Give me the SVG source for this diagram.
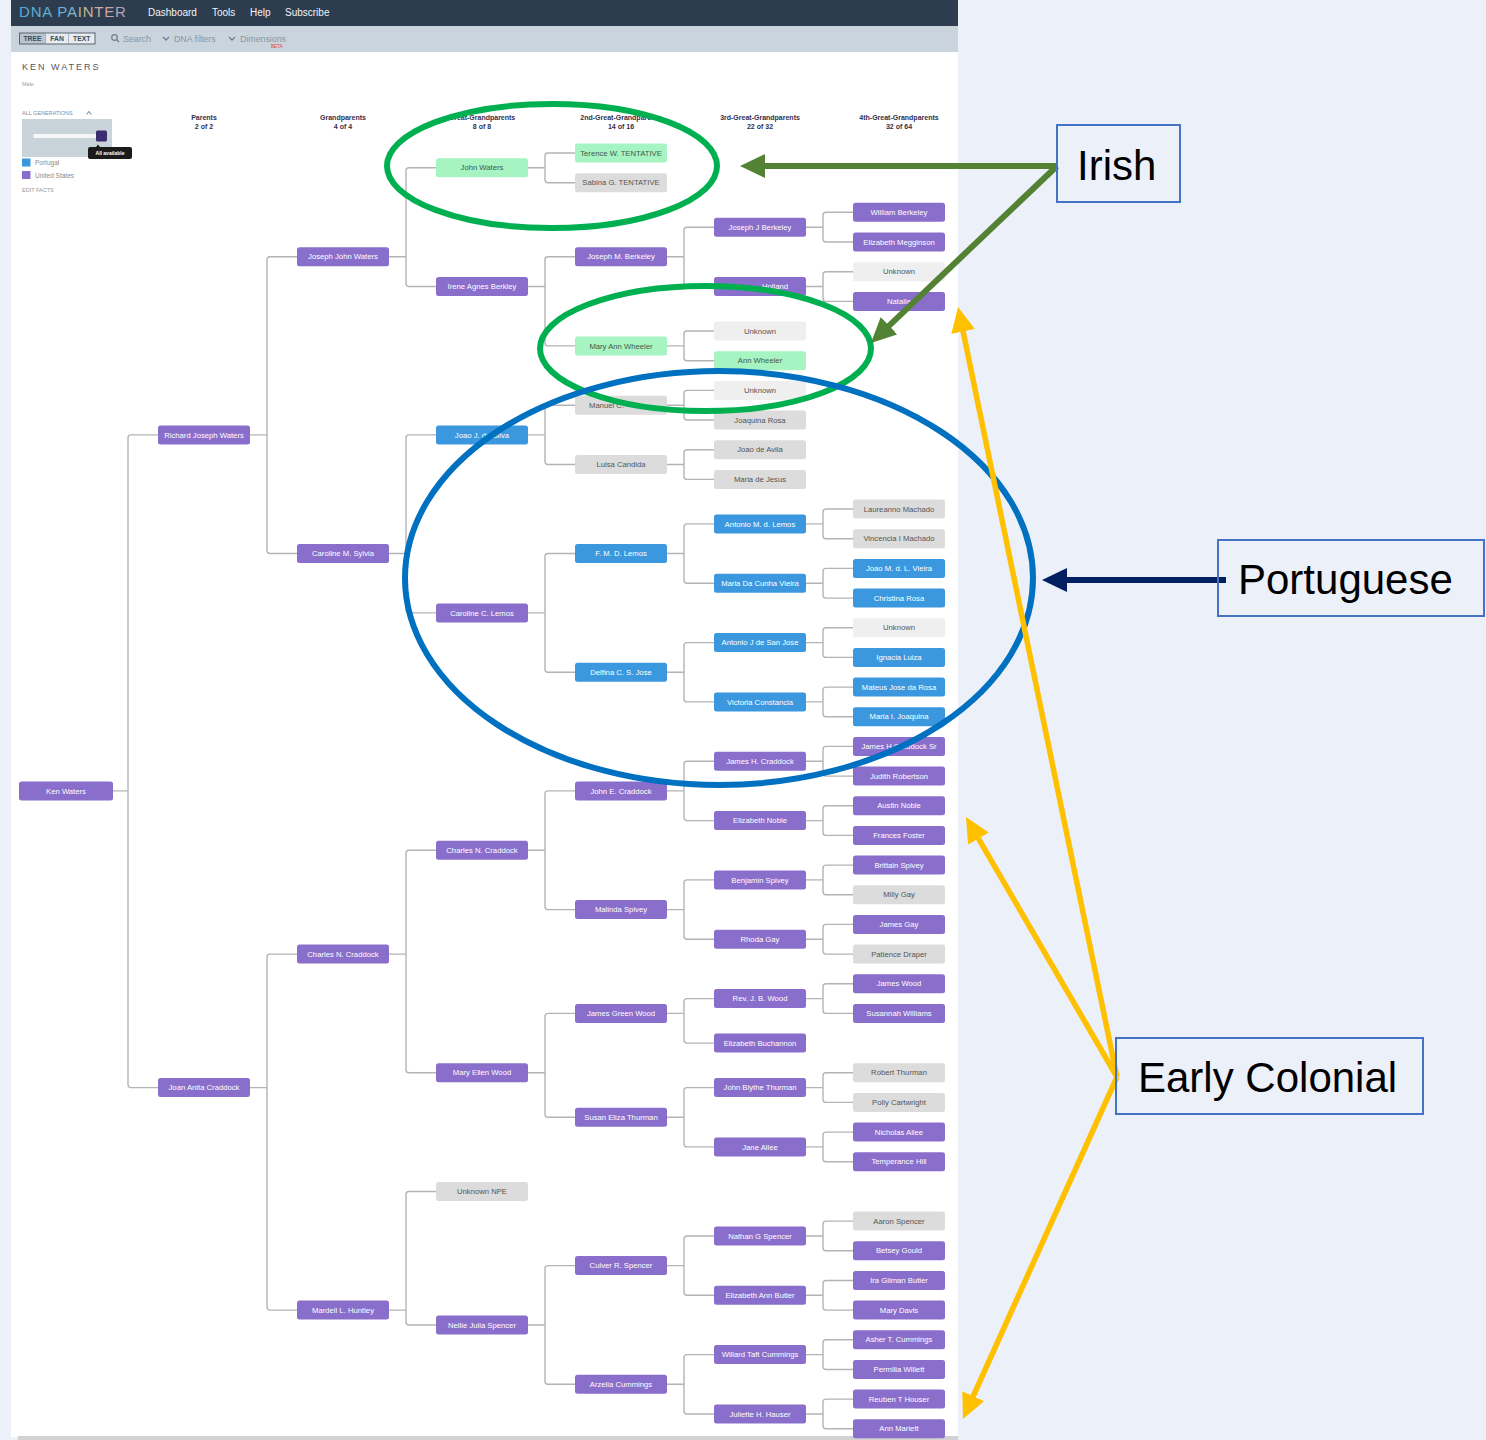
<svg xmlns="http://www.w3.org/2000/svg" width="1486" height="1440" viewBox="0 0 1486 1440">
<defs>
  <style>
    .ui{font-family:"Liberation Sans",Arial,sans-serif}
    .node rect{stroke:none}
    .node text{font-family:"Liberation Sans",Arial,sans-serif;font-size:7.7px;text-anchor:middle}
    .p rect{fill:#8a6ecb}
    .b rect{fill:#3b98de}
    .g rect{fill:#a6f4c2}
    .x rect{fill:#dcdcdc}
    .u rect{fill:#efefef}
    .p text,.b text{fill:#ffffff}
    .g text{fill:#3f5a4a}
    .x text,.u text{fill:#555555}
    .links path{fill:none;stroke:#b4b4b4;stroke-width:1.4}
    .hdr{font-family:"Liberation Sans",Arial,sans-serif;font-size:7px;font-weight:bold;fill:#34304c;text-anchor:middle}
    .call rect{fill:none;stroke:#4472c4;stroke-width:2}
    .call text{font-family:"Liberation Sans",Arial,sans-serif;font-size:42px;fill:#000000}
  </style>
  <linearGradient id="logo" gradientUnits="userSpaceOnUse" x1="19" y1="0" x2="127" y2="0">
    <stop offset="0" stop-color="#56a9dc"/>
    <stop offset="0.45" stop-color="#6cb2d8"/>
    <stop offset="0.6" stop-color="#bdb894"/>
    <stop offset="0.78" stop-color="#d3a6a2"/>
    <stop offset="1" stop-color="#a9a2bb"/>
  </linearGradient>
  <marker id="ahGreen" markerUnits="userSpaceOnUse" markerWidth="26" markerHeight="24" refX="2" refY="12" orient="auto">
    <path d="M0,0 L25,12 L0,24 Z" fill="#548235"/>
  </marker>
  <marker id="ahNavy" markerUnits="userSpaceOnUse" markerWidth="26" markerHeight="24" refX="2" refY="12" orient="auto">
    <path d="M0,0 L25,12 L0,24 Z" fill="#002060"/>
  </marker>
  <marker id="ahGold" markerUnits="userSpaceOnUse" markerWidth="26" markerHeight="24" refX="2" refY="12" orient="auto">
    <path d="M0,0 L25,12 L0,24 Z" fill="#ffc000"/>
  </marker>
</defs>

<!-- slide background -->
<rect x="0" y="0" width="1486" height="1440" fill="#ebf0f9"/>

<!-- app screenshot frame -->
<rect x="11" y="0" width="947" height="1437" fill="#ffffff"/>
<rect x="11" y="0" width="947" height="26" fill="#2d3d4f"/>
<rect x="11" y="26" width="947" height="26" fill="#c9d4dc"/>
<rect x="18" y="1436" width="940" height="4" fill="#d2d2d2"/>

<!-- top bar -->
<text class="ui" x="19" y="17" font-size="15" letter-spacing="0.8" fill="url(#logo)">DNA PAINTER</text>
<g class="ui" font-size="10" fill="#f2f4f7">
  <text x="148" y="16">Dashboard</text>
  <text x="212" y="16">Tools</text>
  <text x="250" y="16">Help</text>
  <text x="285" y="16">Subscribe</text>
</g>

<!-- toolbar -->
<rect x="19.5" y="33" width="26" height="11" fill="#b9c4cc"/>
<rect x="45.5" y="33" width="23" height="11" fill="#e6ecf0"/>
<rect x="68.5" y="33" width="26.5" height="11" fill="#e6ecf0"/>
<rect x="19.5" y="33" width="75.5" height="11" fill="none" stroke="#5a6470" stroke-width="1"/>
<line x1="45.5" y1="33" x2="45.5" y2="44" stroke="#8a96a0" stroke-width="0.6"/>
<line x1="68.5" y1="33" x2="68.5" y2="44" stroke="#8a96a0" stroke-width="0.6"/>
<g class="ui" font-size="6.8" font-weight="bold" fill="#3c4a58" text-anchor="middle">
  <text x="32.5" y="41">TREE</text>
  <text x="57" y="41">FAN</text>
  <text x="81.8" y="41">TEXT</text>
</g>
<circle cx="114.5" cy="37.5" r="2.8" fill="none" stroke="#6f8090" stroke-width="1.2"/>
<line x1="116.5" y1="39.5" x2="119" y2="42" stroke="#6f8090" stroke-width="1.4"/>
<path d="M163,37 L166,40 L169,37" fill="none" stroke="#6f8090" stroke-width="1.3"/>
<path d="M229,37 L232,40 L235,37" fill="none" stroke="#6f8090" stroke-width="1.3"/>
<g class="ui" font-size="8.8" fill="#8797a6">
  <text x="123" y="41.5">Search</text>
  <text x="174" y="41.5">DNA filters</text>
  <text x="240" y="41.5">Dimensions</text>
</g>
<text class="ui" x="271" y="47.5" font-size="4.5" fill="#e0403a">BETA</text>

<!-- profile panel -->
<text class="ui" x="22" y="70" font-size="9" letter-spacing="2" fill="#55555f">KEN WATERS</text>
<text class="ui" x="22" y="86" font-size="5.5" fill="#a0a0a0">Male</text>
<text class="ui" x="22" y="114.5" font-size="5.5" fill="#7f8fa0">ALL GENERATIONS</text>
<path d="M86.5,114.5 L89,111.5 L91.5,114.5" fill="none" stroke="#7f8fa0" stroke-width="1.1"/>
<rect x="22" y="119" width="90" height="38" fill="#c9d3da"/>
<rect x="33" y="134" width="64" height="4" rx="2" fill="#f4f6f8"/>
<rect x="96" y="130.5" width="11" height="11" rx="1.5" fill="#3b2d6e"/>
<path d="M96,147 L98,144.5 L100,147 Z" fill="#1b1b1b"/>
<rect x="88" y="147" width="44" height="12" rx="2" fill="#1b1b1b"/>
<text class="ui" x="110" y="155" font-size="5" font-weight="bold" fill="#ffffff" text-anchor="middle">All available</text>
<rect x="22" y="158.5" width="8.5" height="8" fill="#3b98de"/>
<rect x="22" y="171" width="8.5" height="8" fill="#8a6ecb"/>
<text class="ui" x="35" y="165" font-size="6.5" fill="#8a8a8a">Portugal</text>
<text class="ui" x="35" y="178" font-size="6.5" fill="#8a8a8a">United States</text>
<text class="ui" x="22" y="192" font-size="5.5" fill="#8c9caa">EDIT   FACTS</text>

<!-- generation headers -->
<g class="hdr">
  <text x="204" y="120">Parents</text><text x="204" y="129">2 of 2</text>
  <text x="343" y="120">Grandparents</text><text x="343" y="129">4 of 4</text>
  <text x="482" y="120">Great-Grandparents</text><text x="482" y="129">8 of 8</text>
  <text x="621" y="120">2nd-Great-Grandparents</text><text x="621" y="129">14 of 16</text>
  <text x="760" y="120">3rd-Great-Grandparents</text><text x="760" y="129">22 of 32</text>
  <text x="899" y="120">4th-Great-Grandparents</text><text x="899" y="129">32 of 64</text>
</g>

<!-- tree connectors: parent right edge -> elbow -> child left edge -->
<g class="links" id="connectors">
  <path d="M158,434.9 H131 Q128,434.9 128,437.9 V1084.6 Q128,1087.6 131,1087.6 H158 M111,790.9 H128"/>

  <path d="M297,256.8 H270 Q267,256.8 267,259.8 V550.5 Q267,553.5 270,553.5 H297 M250,434.9 H267"/>
  <path d="M297,954.1 H270 Q267,954.1 267,957.1 V1307.1 Q267,1310.1 270,1310.1 H297 M250,1087.6 H267"/>

  <path d="M436,167.8 H409 Q406,167.8 406,170.8 V283.5 Q406,286.5 409,286.5 H436 M389,256.8 H406"/>
  <path d="M436,434.9 H409 Q406,434.9 406,437.9 V609.9 Q406,612.9 409,612.9 H436 M389,553.5 H406"/>
  <path d="M436,850.2 H409 Q406,850.2 406,853.2 V1069.8 Q406,1072.8 409,1072.8 H436 M389,954.1 H406"/>
  <path d="M436,1191.5 H409 Q406,1191.5 406,1194.5 V1322 Q406,1325 409,1325 H436 M389,1310.1 H406"/>

  <path d="M575,153 H548 Q545,153 545,156 V179.7 Q545,182.7 548,182.7 H575 M528,167.8 H545"/>
  <path d="M575,256.8 H548 Q545,256.8 545,259.8 V342.9 Q545,345.9 548,345.9 H575 M528,286.5 H545"/>
  <path d="M575,405.2 H548 Q545,405.2 545,408.2 V461.5 Q545,464.5 548,464.5 H575 M528,434.9 H545"/>
  <path d="M575,553.5 H548 Q545,553.5 545,556.5 V669.2 Q545,672.2 548,672.2 H575 M528,612.9 H545"/>
  <path d="M575,790.9 H548 Q545,790.9 545,793.9 V906.6 Q545,909.6 548,909.6 H575 M528,850.2 H545"/>
  <path d="M575,1013.4 H548 Q545,1013.4 545,1016.4 V1114.3 Q545,1117.3 548,1117.3 H575 M528,1072.8 H545"/>
  <path d="M575,1265.6 H548 Q545,1265.6 545,1268.6 V1381.3 Q545,1384.3 548,1384.3 H575 M528,1325 H545"/>

  <path d="M714,227.2 H687 Q684,227.2 684,230.2 V283.5 Q684,286.5 687,286.5 H714 M667,256.8 H684"/>
  <path d="M714,331 H687 Q684,331 684,334 V357.7 Q684,360.7 687,360.7 H714 M667,345.9 H684"/>
  <path d="M714,390.4 H687 Q684,390.4 684,393.4 V417 Q684,420 687,420 H714 M667,405.2 H684"/>
  <path d="M714,449.7 H687 Q684,449.7 684,452.7 V476.4 Q684,479.4 687,479.4 H714 M667,464.5 H684"/>
  <path d="M714,523.9 H687 Q684,523.9 684,526.9 V580.2 Q684,583.2 687,583.2 H714 M667,553.5 H684"/>
  <path d="M714,642.6 H687 Q684,642.6 684,645.6 V698.9 Q684,701.9 687,701.9 H714 M667,672.2 H684"/>
  <path d="M714,761.2 H687 Q684,761.2 684,764.2 V817.6 Q684,820.6 687,820.6 H714 M667,790.9 H684"/>
  <path d="M714,879.9 H687 Q684,879.9 684,882.9 V936.3 Q684,939.3 687,939.3 H714 M667,909.6 H684"/>
  <path d="M714,998.6 H687 Q684,998.6 684,1001.6 V1040.1 Q684,1043.1 687,1043.1 H714 M667,1013.4 H684"/>
  <path d="M714,1087.6 H687 Q684,1087.6 684,1090.6 V1143.9 Q684,1146.9 687,1146.9 H714 M667,1117.3 H684"/>
  <path d="M714,1236 H687 Q684,1236 684,1239 V1292.3 Q684,1295.3 687,1295.3 H714 M667,1265.6 H684"/>
  <path d="M714,1354.6 H687 Q684,1354.6 684,1357.6 V1411 Q684,1414 687,1414 H714 M667,1384.3 H684"/>

  <path d="M853,212.3 H826 Q823,212.3 823,215.3 V239 Q823,242 826,242 H853 M806,227.2 H823"/>
  <path d="M853,271.7 H826 Q823,271.7 823,274.7 V298.4 Q823,301.4 826,301.4 H853 M806,286.5 H823"/>
  <path d="M853,509 H826 Q823,509 823,512 V535.7 Q823,538.7 826,538.7 H853 M806,523.9 H823"/>
  <path d="M853,568.4 H826 Q823,568.4 823,571.4 V595.1 Q823,598.1 826,598.1 H853 M806,583.2 H823"/>
  <path d="M853,627.7 H826 Q823,627.7 823,630.7 V654.4 Q823,657.4 826,657.4 H853 M806,642.6 H823"/>
  <path d="M853,687.1 H826 Q823,687.1 823,690.1 V713.7 Q823,716.7 826,716.7 H853 M806,701.9 H823"/>
  <path d="M853,746.4 H826 Q823,746.4 823,749.4 V773.1 Q823,776.1 826,776.1 H853 M806,761.2 H823"/>
  <path d="M853,805.7 H826 Q823,805.7 823,808.7 V832.4 Q823,835.4 826,835.4 H853 M806,820.6 H823"/>
  <path d="M853,865.1 H826 Q823,865.1 823,868.1 V891.8 Q823,894.8 826,894.8 H853 M806,879.9 H823"/>
  <path d="M853,924.4 H826 Q823,924.4 823,927.4 V951.1 Q823,954.1 826,954.1 H853 M806,939.3 H823"/>
  <path d="M853,983.8 H826 Q823,983.8 823,986.8 V1010.4 Q823,1013.4 826,1013.4 H853 M806,998.6 H823"/>
  <path d="M853,1072.8 H826 Q823,1072.8 823,1075.8 V1099.4 Q823,1102.4 826,1102.4 H853 M806,1087.6 H823"/>
  <path d="M853,1132.1 H826 Q823,1132.1 823,1135.1 V1158.8 Q823,1161.8 826,1161.8 H853 M806,1146.9 H823"/>
  <path d="M853,1221.1 H826 Q823,1221.1 823,1224.1 V1247.8 Q823,1250.8 826,1250.8 H853 M806,1236 H823"/>
  <path d="M853,1280.5 H826 Q823,1280.5 823,1283.5 V1307.1 Q823,1310.1 826,1310.1 H853 M806,1295.3 H823"/>
  <path d="M853,1339.8 H826 Q823,1339.8 823,1342.8 V1366.5 Q823,1369.5 826,1369.5 H853 M806,1354.6 H823"/>
  <path d="M853,1399.1 H826 Q823,1399.1 823,1402.1 V1425.8 Q823,1428.8 826,1428.8 H853 M806,1414 H823"/>
</g>

<!-- generation 0 -->
<g id="n-ken-waters" class="node p"><rect x="19" y="781.4" width="94" height="19" rx="2.5"/><text x="66" y="793.5">Ken Waters</text></g>

<!-- generation 1 -->
<g id="n-richard-joseph-waters" class="node p"><rect x="158" y="425.4" width="92" height="19" rx="2.5"/><text x="204" y="437.5">Richard Joseph Waters</text></g>
<g id="n-joan-anita-craddock" class="node p"><rect x="158" y="1078.1" width="92" height="19" rx="2.5"/><text x="204" y="1090.2">Joan Anita Craddock</text></g>

<!-- generation 2 -->
<g id="n-joseph-john-waters" class="node p"><rect x="297" y="247.3" width="92" height="19" rx="2.5"/><text x="343" y="259.4">Joseph John Waters</text></g>
<g id="n-caroline-m-sylvia" class="node p"><rect x="297" y="544" width="92" height="19" rx="2.5"/><text x="343" y="556.1">Caroline M. Sylvia</text></g>
<g id="n-charles-n-craddock-2" class="node p"><rect x="297" y="944.6" width="92" height="19" rx="2.5"/><text x="343" y="956.7">Charles N. Craddock</text></g>
<g id="n-mardell-l-huntley" class="node p"><rect x="297" y="1300.6" width="92" height="19" rx="2.5"/><text x="343" y="1312.7">Mardell L. Huntley</text></g>

<!-- generation 3 -->
<g id="n-john-waters" class="node g"><rect x="436" y="158.3" width="92" height="19" rx="2.5"/><text x="482" y="170.4">John Waters</text></g>
<g id="n-irene-agnes-berkley" class="node p"><rect x="436" y="277" width="92" height="19" rx="2.5"/><text x="482" y="289.1">Irene Agnes Berkley</text></g>
<g id="n-joao-j-silva" class="node b"><rect x="436" y="425.4" width="92" height="19" rx="2.5"/><text x="482" y="437.5">Joao J. da Silva</text></g>
<g id="n-caroline-c-lemos" class="node p"><rect x="436" y="603.4" width="92" height="19" rx="2.5"/><text x="482" y="615.5">Caroline C. Lemos</text></g>
<g id="n-charles-n-craddock-3" class="node p"><rect x="436" y="840.7" width="92" height="19" rx="2.5"/><text x="482" y="852.8">Charles N. Craddock</text></g>
<g id="n-mary-ellen-wood" class="node p"><rect x="436" y="1063.3" width="92" height="19" rx="2.5"/><text x="482" y="1075.4">Mary Ellen Wood</text></g>
<g id="n-unknown-npe" class="node x"><rect x="436" y="1182" width="92" height="19" rx="2.5"/><text x="482" y="1194.1">Unknown NPE</text></g>
<g id="n-nellie-julia-spencer" class="node p"><rect x="436" y="1315.5" width="92" height="19" rx="2.5"/><text x="482" y="1327.6">Nellie Julia Spencer</text></g>

<!-- generation 4 -->
<g id="n-terence-w" class="node g"><rect x="575" y="143.5" width="92" height="19" rx="2.5"/><text x="621" y="155.6">Terence W. TENTATIVE</text></g>
<g id="n-sabina-g" class="node x"><rect x="575" y="173.2" width="92" height="19" rx="2.5"/><text x="621" y="185.3">Sabina G. TENTATIVE</text></g>
<g id="n-joseph-m-berkeley" class="node p"><rect x="575" y="247.3" width="92" height="19" rx="2.5"/><text x="621" y="259.4">Joseph M. Berkeley</text></g>
<g id="n-mary-ann-wheeler" class="node g"><rect x="575" y="336.4" width="92" height="19" rx="2.5"/><text x="621" y="348.5">Mary Ann Wheeler</text></g>
<g id="n-manuel-c" class="node x"><rect x="575" y="395.7" width="92" height="19" rx="2.5"/><text x="589" y="407.8" style="text-anchor:start">Manuel C.</text></g>
<g id="n-luisa-candida" class="node x"><rect x="575" y="455" width="92" height="19" rx="2.5"/><text x="621" y="467.1">Luisa Candida</text></g>
<g id="n-f-m-d-lemos" class="node b"><rect x="575" y="544" width="92" height="19" rx="2.5"/><text x="621" y="556.1">F. M. D. Lemos</text></g>
<g id="n-delfina-c-s-jose" class="node b"><rect x="575" y="662.7" width="92" height="19" rx="2.5"/><text x="621" y="674.8">Delfina C. S. Jose</text></g>
<g id="n-john-e-craddock" class="node p"><rect x="575" y="781.4" width="92" height="19" rx="2.5"/><text x="621" y="793.5">John E. Craddock</text></g>
<g id="n-malinda-spivey" class="node p"><rect x="575" y="900.1" width="92" height="19" rx="2.5"/><text x="621" y="912.2">Malinda Spivey</text></g>
<g id="n-james-green-wood" class="node p"><rect x="575" y="1003.9" width="92" height="19" rx="2.5"/><text x="621" y="1016">James Green Wood</text></g>
<g id="n-susan-eliza-thurman" class="node p"><rect x="575" y="1107.8" width="92" height="19" rx="2.5"/><text x="621" y="1119.9">Susan Eliza Thurman</text></g>
<g id="n-culver-r-spencer" class="node p"><rect x="575" y="1256.1" width="92" height="19" rx="2.5"/><text x="621" y="1268.2">Culver R. Spencer</text></g>
<g id="n-arzelia-cummings" class="node p"><rect x="575" y="1374.8" width="92" height="19" rx="2.5"/><text x="621" y="1386.9">Arzelia Cummings</text></g>

<!-- generation 5 -->
<g id="n-joseph-j-berkeley" class="node p"><rect x="714" y="217.7" width="92" height="19" rx="2.5"/><text x="760" y="229.8">Joseph J Berkeley</text></g>
<g id="n-holland" class="node p"><rect x="714" y="277" width="92" height="19" rx="2.5"/><text x="762" y="289.1" style="text-anchor:start">Holland</text></g>
<g id="n-unknown-5a" class="node u"><rect x="714" y="321.5" width="92" height="19" rx="2.5"/><text x="760" y="333.6">Unknown</text></g>
<g id="n-ann-wheeler" class="node g"><rect x="714" y="351.2" width="92" height="19" rx="2.5"/><text x="760" y="363.3">Ann Wheeler</text></g>
<g id="n-unknown-5b" class="node u"><rect x="714" y="380.9" width="92" height="19" rx="2.5"/><text x="760" y="393">Unknown</text></g>
<g id="n-joaquina-rosa" class="node x"><rect x="714" y="410.5" width="92" height="19" rx="2.5"/><text x="760" y="422.6">Joaquina Rosa</text></g>
<g id="n-joao-de-avila" class="node x"><rect x="714" y="440.2" width="92" height="19" rx="2.5"/><text x="760" y="452.3">Joao de Avila</text></g>
<g id="n-maria-de-jesus" class="node x"><rect x="714" y="469.9" width="92" height="19" rx="2.5"/><text x="760" y="482">Maria de Jesus</text></g>
<g id="n-antonio-m-d-lemos" class="node b"><rect x="714" y="514.4" width="92" height="19" rx="2.5"/><text x="760" y="526.5">Antonio M. d. Lemos</text></g>
<g id="n-maria-da-cunha-vieira" class="node b"><rect x="714" y="573.7" width="92" height="19" rx="2.5"/><text x="760" y="585.8">Maria Da Cunha Vieira</text></g>
<g id="n-antonio-j-de-san-jose" class="node b"><rect x="714" y="633.1" width="92" height="19" rx="2.5"/><text x="760" y="645.2">Antonio J de San Jose</text></g>
<g id="n-victoria-constancia" class="node b"><rect x="714" y="692.4" width="92" height="19" rx="2.5"/><text x="760" y="704.5">Victoria Constancia</text></g>
<g id="n-james-h-craddock" class="node p"><rect x="714" y="751.7" width="92" height="19" rx="2.5"/><text x="760" y="763.8">James H. Craddock</text></g>
<g id="n-elizabeth-noble" class="node p"><rect x="714" y="811.1" width="92" height="19" rx="2.5"/><text x="760" y="823.2">Elizabeth Noble</text></g>
<g id="n-benjamin-spivey" class="node p"><rect x="714" y="870.4" width="92" height="19" rx="2.5"/><text x="760" y="882.5">Benjamin Spivey</text></g>
<g id="n-rhoda-gay" class="node p"><rect x="714" y="929.8" width="92" height="19" rx="2.5"/><text x="760" y="941.9">Rhoda Gay</text></g>
<g id="n-rev-j-b-wood" class="node p"><rect x="714" y="989.1" width="92" height="19" rx="2.5"/><text x="760" y="1001.2">Rev. J. B. Wood</text></g>
<g id="n-elizabeth-buchannon" class="node p"><rect x="714" y="1033.6" width="92" height="19" rx="2.5"/><text x="760" y="1045.7">Elizabeth Buchannon</text></g>
<g id="n-john-blythe-thurman" class="node p"><rect x="714" y="1078.1" width="92" height="19" rx="2.5"/><text x="760" y="1090.2">John Blythe Thurman</text></g>
<g id="n-jane-allee" class="node p"><rect x="714" y="1137.4" width="92" height="19" rx="2.5"/><text x="760" y="1149.5">Jane Allee</text></g>
<g id="n-nathan-g-spencer" class="node p"><rect x="714" y="1226.5" width="92" height="19" rx="2.5"/><text x="760" y="1238.6">Nathan G Spencer</text></g>
<g id="n-elizabeth-ann-butler" class="node p"><rect x="714" y="1285.8" width="92" height="19" rx="2.5"/><text x="760" y="1297.9">Elizabeth Ann Butler</text></g>
<g id="n-willard-taft-cummings" class="node p"><rect x="714" y="1345.1" width="92" height="19" rx="2.5"/><text x="760" y="1357.2">Willard Taft Cummings</text></g>
<g id="n-juliette-h-hauser" class="node p"><rect x="714" y="1404.5" width="92" height="19" rx="2.5"/><text x="760" y="1416.6">Juliette H. Hauser</text></g>

<!-- generation 6 -->
<g id="n-william-berkeley" class="node p"><rect x="853" y="202.8" width="92" height="19" rx="2.5"/><text x="899" y="214.9">William Berkeley</text></g>
<g id="n-elizabeth-megginson" class="node p"><rect x="853" y="232.5" width="92" height="19" rx="2.5"/><text x="899" y="244.6">Elizabeth Megginson</text></g>
<g id="n-unknown-6a" class="node u"><rect x="853" y="262.2" width="92" height="19" rx="2.5"/><text x="899" y="274.3">Unknown</text></g>
<g id="n-natalie" class="node p"><rect x="853" y="291.9" width="92" height="19" rx="2.5"/><text x="899" y="304">Natalie</text></g>
<g id="n-laureanno-machado" class="node x"><rect x="853" y="499.5" width="92" height="19" rx="2.5"/><text x="899" y="511.6">Laureanno Machado</text></g>
<g id="n-vincencia-i-machado" class="node x"><rect x="853" y="529.2" width="92" height="19" rx="2.5"/><text x="899" y="541.3">Vincencia I Machado</text></g>
<g id="n-joao-m-d-l-vieira" class="node b"><rect x="853" y="558.9" width="92" height="19" rx="2.5"/><text x="899" y="571">Joao M. d. L. Vieira</text></g>
<g id="n-christina-rosa" class="node b"><rect x="853" y="588.6" width="92" height="19" rx="2.5"/><text x="899" y="600.7">Christina Rosa</text></g>
<g id="n-unknown-6b" class="node u"><rect x="853" y="618.2" width="92" height="19" rx="2.5"/><text x="899" y="630.3">Unknown</text></g>
<g id="n-ignacia-luiza" class="node b"><rect x="853" y="647.9" width="92" height="19" rx="2.5"/><text x="899" y="660">Ignacia Luiza</text></g>
<g id="n-mateus-jose-da-rosa" class="node b"><rect x="853" y="677.6" width="92" height="19" rx="2.5"/><text x="899" y="689.7">Mateus Jose da Rosa</text></g>
<g id="n-maria-i-joaquina" class="node b"><rect x="853" y="707.2" width="92" height="19" rx="2.5"/><text x="899" y="719.3">Maria I. Joaquina</text></g>
<g id="n-james-h-craddock-sr" class="node p"><rect x="853" y="736.9" width="92" height="19" rx="2.5"/><text x="899" y="749">James H Craddock Sr</text></g>
<g id="n-judith-robertson" class="node p"><rect x="853" y="766.6" width="92" height="19" rx="2.5"/><text x="899" y="778.7">Judith Robertson</text></g>
<g id="n-austin-noble" class="node p"><rect x="853" y="796.2" width="92" height="19" rx="2.5"/><text x="899" y="808.3">Austin Noble</text></g>
<g id="n-frances-foster" class="node p"><rect x="853" y="825.9" width="92" height="19" rx="2.5"/><text x="899" y="838">Frances Foster</text></g>
<g id="n-brittain-spivey" class="node p"><rect x="853" y="855.6" width="92" height="19" rx="2.5"/><text x="899" y="867.7">Brittain Spivey</text></g>
<g id="n-milly-gay" class="node x"><rect x="853" y="885.3" width="92" height="19" rx="2.5"/><text x="899" y="897.4">Milly Gay</text></g>
<g id="n-james-gay" class="node p"><rect x="853" y="914.9" width="92" height="19" rx="2.5"/><text x="899" y="927">James Gay</text></g>
<g id="n-patience-draper" class="node x"><rect x="853" y="944.6" width="92" height="19" rx="2.5"/><text x="899" y="956.7">Patience Draper</text></g>
<g id="n-james-wood" class="node p"><rect x="853" y="974.3" width="92" height="19" rx="2.5"/><text x="899" y="986.4">James Wood</text></g>
<g id="n-susannah-williams" class="node p"><rect x="853" y="1003.9" width="92" height="19" rx="2.5"/><text x="899" y="1016">Susannah Williams</text></g>
<g id="n-robert-thurman" class="node x"><rect x="853" y="1063.3" width="92" height="19" rx="2.5"/><text x="899" y="1075.4">Robert Thurman</text></g>
<g id="n-polly-cartwright" class="node x"><rect x="853" y="1092.9" width="92" height="19" rx="2.5"/><text x="899" y="1105">Polly Cartwright</text></g>
<g id="n-nicholas-allee" class="node p"><rect x="853" y="1122.6" width="92" height="19" rx="2.5"/><text x="899" y="1134.7">Nicholas Allee</text></g>
<g id="n-temperance-hill" class="node p"><rect x="853" y="1152.3" width="92" height="19" rx="2.5"/><text x="899" y="1164.4">Temperance Hill</text></g>
<g id="n-aaron-spencer" class="node x"><rect x="853" y="1211.6" width="92" height="19" rx="2.5"/><text x="899" y="1223.7">Aaron Spencer</text></g>
<g id="n-betsey-gould" class="node p"><rect x="853" y="1241.3" width="92" height="19" rx="2.5"/><text x="899" y="1253.4">Betsey Gould</text></g>
<g id="n-ira-gilman-butler" class="node p"><rect x="853" y="1271" width="92" height="19" rx="2.5"/><text x="899" y="1283.1">Ira Gilman Butler</text></g>
<g id="n-mary-davis" class="node p"><rect x="853" y="1300.6" width="92" height="19" rx="2.5"/><text x="899" y="1312.7">Mary Davis</text></g>
<g id="n-asher-t-cummings" class="node p"><rect x="853" y="1330.3" width="92" height="19" rx="2.5"/><text x="899" y="1342.4">Asher T. Cummings</text></g>
<g id="n-permilia-willett" class="node p"><rect x="853" y="1360" width="92" height="19" rx="2.5"/><text x="899" y="1372.1">Permilia Willett</text></g>
<g id="n-reuben-t-houser" class="node p"><rect x="853" y="1389.6" width="92" height="19" rx="2.5"/><text x="899" y="1401.7">Reuben T Houser</text></g>
<g id="n-ann-mariett" class="node p"><rect x="853" y="1419.3" width="92" height="19" rx="2.5"/><text x="899" y="1431.4">Ann Mariett</text></g>

<!-- highlight rings -->
<g id="rings" fill="none">
  <ellipse cx="552" cy="166" rx="165" ry="62" stroke="#00b050" stroke-width="6"/>
  <ellipse cx="705.5" cy="348.5" rx="165.5" ry="62.5" stroke="#00b050" stroke-width="6"/>
  <ellipse cx="719" cy="578" rx="314" ry="207" stroke="#0070c0" stroke-width="6"/>
</g>

<!-- callout arrows -->
<g id="callout-arrows" fill="none" stroke-linecap="butt">
  <line x1="1057" y1="166" x2="763" y2="166" stroke="#548235" stroke-width="6" marker-end="url(#ahGreen)"/>
  <line x1="1057" y1="166" x2="887.6" y2="327.1" stroke="#548235" stroke-width="6" marker-end="url(#ahGreen)"/>
  <line x1="1226" y1="580" x2="1065" y2="580" stroke="#002060" stroke-width="6" marker-end="url(#ahNavy)"/>
  <line x1="1117" y1="1077" x2="962.7" y2="329.5" stroke="#ffc000" stroke-width="5.5" marker-end="url(#ahGold)"/>
  <line x1="1117" y1="1077" x2="977.5" y2="836.9" stroke="#ffc000" stroke-width="5.5" marker-end="url(#ahGold)"/>
  <line x1="1117" y1="1077" x2="972.4" y2="1398" stroke="#ffc000" stroke-width="5.5" marker-end="url(#ahGold)"/>
</g>

<!-- callout labels -->
<g id="label-irish" class="call"><rect x="1057" y="125" width="123" height="77"/><text x="1077" y="180">Irish</text></g>
<g id="label-portuguese" class="call"><rect x="1218" y="540" width="266" height="76"/><text x="1238" y="594">Portuguese</text></g>
<g id="label-early-colonial" class="call"><rect x="1116" y="1038" width="307" height="76"/><text x="1138" y="1092">Early Colonial</text></g>
</svg>
